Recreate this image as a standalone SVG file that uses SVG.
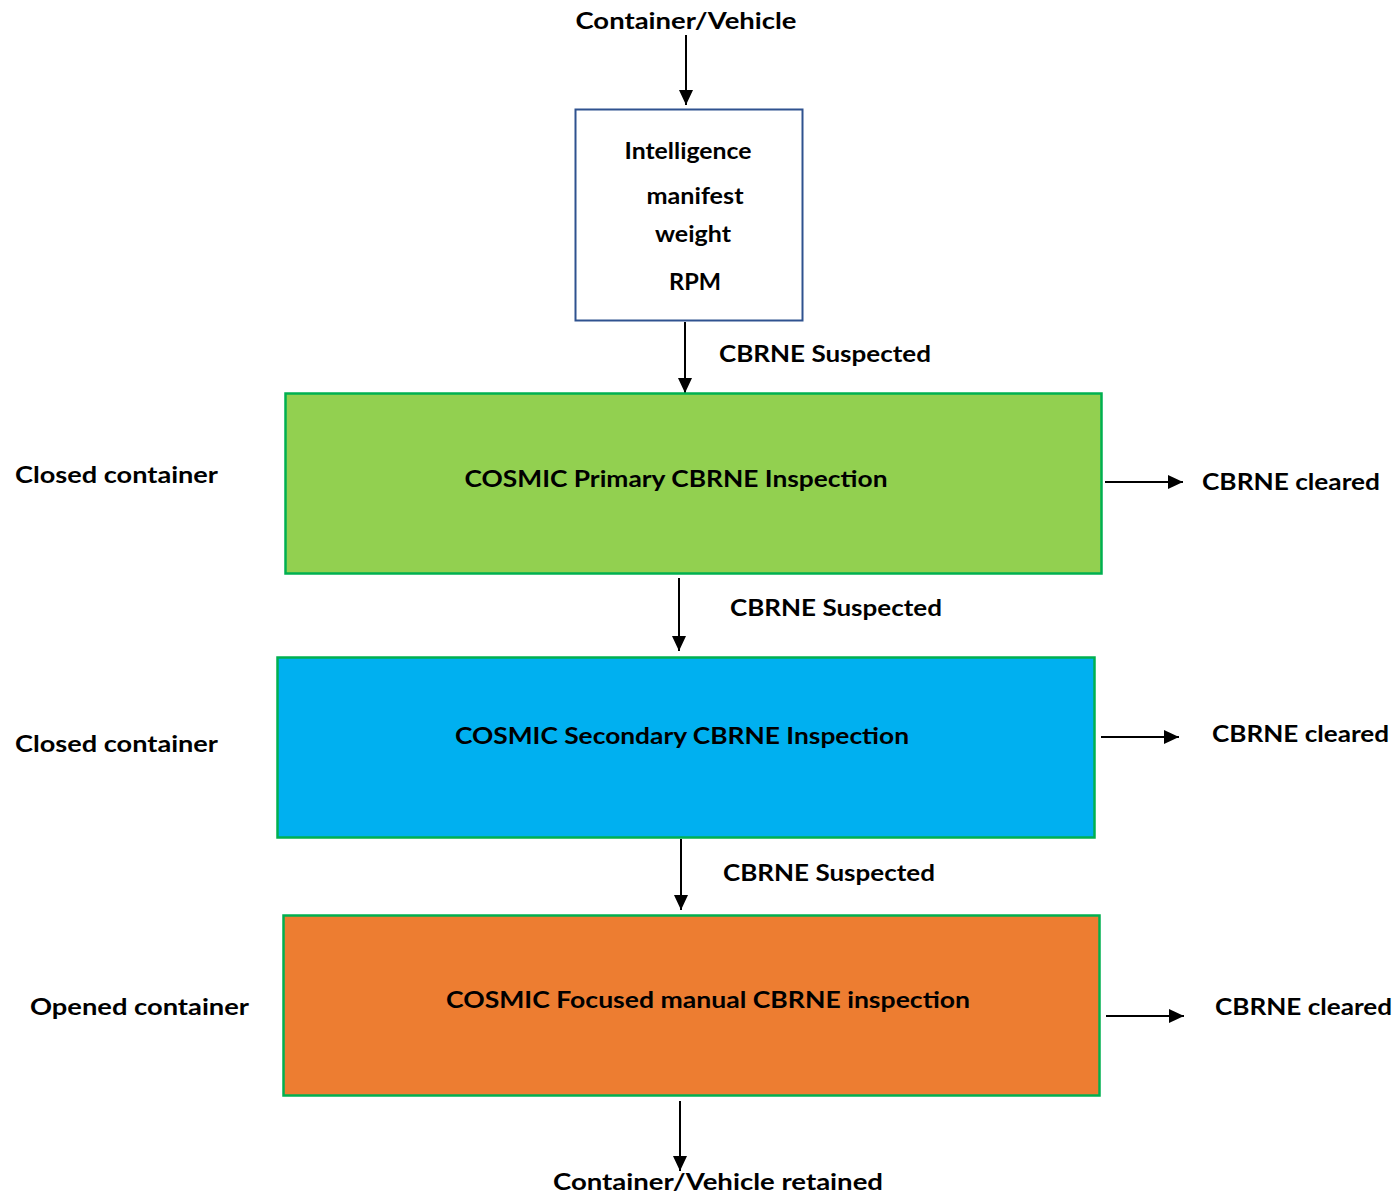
<svg xmlns="http://www.w3.org/2000/svg" width="1397" height="1195" viewBox="0 0 1397 1195">
<style>
text{font-family:Lato,"Open Sans","Liberation Sans",sans-serif;font-weight:bold;font-size:23px;fill:#000}
.c{text-anchor:middle}
.conn line{stroke:#000;stroke-width:2;marker-end:url(#ah)}
.stage{stroke:#00B050;stroke-width:2.5}
</style>
<defs>
<marker id="ah" markerUnits="userSpaceOnUse" markerWidth="16" markerHeight="16" viewBox="0 0 16 16" refX="15" refY="8" orient="auto">
<path d="M0,1 L15,8 L0,15 Z" fill="#000"/>
</marker>
</defs>
<rect width="1397" height="1195" fill="#fff"/>
<g id="connectors" class="conn">
<line x1="686" y1="35" x2="686" y2="105"/>
<line x1="685" y1="322" x2="685" y2="393"/>
<line x1="679" y1="578" x2="679" y2="651"/>
<line x1="681" y1="839" x2="681" y2="910"/>
<line x1="680" y1="1101" x2="680" y2="1171"/>
<line x1="1105" y1="482" x2="1183" y2="482"/>
<line x1="1101" y1="737" x2="1179" y2="737"/>
<line x1="1106" y1="1016" x2="1184" y2="1016"/>
</g>
<g id="labels">
<text x="686" y="29" class="c" textLength="221" lengthAdjust="spacingAndGlyphs">Container/Vehicle</text>
<text x="719" y="362" textLength="212" lengthAdjust="spacingAndGlyphs">CBRNE Suspected</text>
<text x="730" y="616" textLength="212" lengthAdjust="spacingAndGlyphs">CBRNE Suspected</text>
<text x="723" y="881" textLength="212" lengthAdjust="spacingAndGlyphs">CBRNE Suspected</text>
<text x="15" y="483" textLength="203" lengthAdjust="spacingAndGlyphs">Closed container</text>
<text x="15" y="752" textLength="203" lengthAdjust="spacingAndGlyphs">Closed container</text>
<text x="30" y="1015" textLength="219" lengthAdjust="spacingAndGlyphs">Opened container</text>
<text x="1202" y="490" textLength="178" lengthAdjust="spacingAndGlyphs">CBRNE cleared</text>
<text x="1212" y="742" textLength="177" lengthAdjust="spacingAndGlyphs">CBRNE cleared</text>
<text x="1215" y="1015" textLength="177" lengthAdjust="spacingAndGlyphs">CBRNE cleared</text>
<text x="718" y="1190" class="c" textLength="330" lengthAdjust="spacingAndGlyphs">Container/Vehicle retained</text>
</g>
<g id="info">
<rect x="575.5" y="109.5" width="227" height="211" fill="#fff" stroke="#2F528F" stroke-width="2"/>
<text x="688" y="159" class="c" textLength="127" lengthAdjust="spacingAndGlyphs">Intelligence</text>
<text x="695" y="204" class="c" textLength="97" lengthAdjust="spacingAndGlyphs">manifest</text>
<text x="693" y="242" class="c" textLength="76" lengthAdjust="spacingAndGlyphs">weight</text>
<text x="695" y="290" class="c" textLength="52" lengthAdjust="spacingAndGlyphs">RPM</text>
</g>
<g id="primary">
<rect class="stage" x="285.5" y="393.5" width="816" height="180" fill="#92D050"/>
<text x="676" y="487" class="c" textLength="423" lengthAdjust="spacingAndGlyphs">COSMIC Primary CBRNE Inspection</text>
</g>
<g id="secondary">
<rect class="stage" x="277.5" y="657.5" width="817" height="180" fill="#00B0F0"/>
<text x="682" y="744" class="c" textLength="454" lengthAdjust="spacingAndGlyphs">COSMIC Secondary CBRNE Inspection</text>
</g>
<g id="focused">
<rect class="stage" x="283.5" y="915.5" width="816" height="180" fill="#ED7D31"/>
<text x="708" y="1008" class="c" textLength="524" lengthAdjust="spacingAndGlyphs">COSMIC Focused manual CBRNE inspection</text>
</g>
</svg>
